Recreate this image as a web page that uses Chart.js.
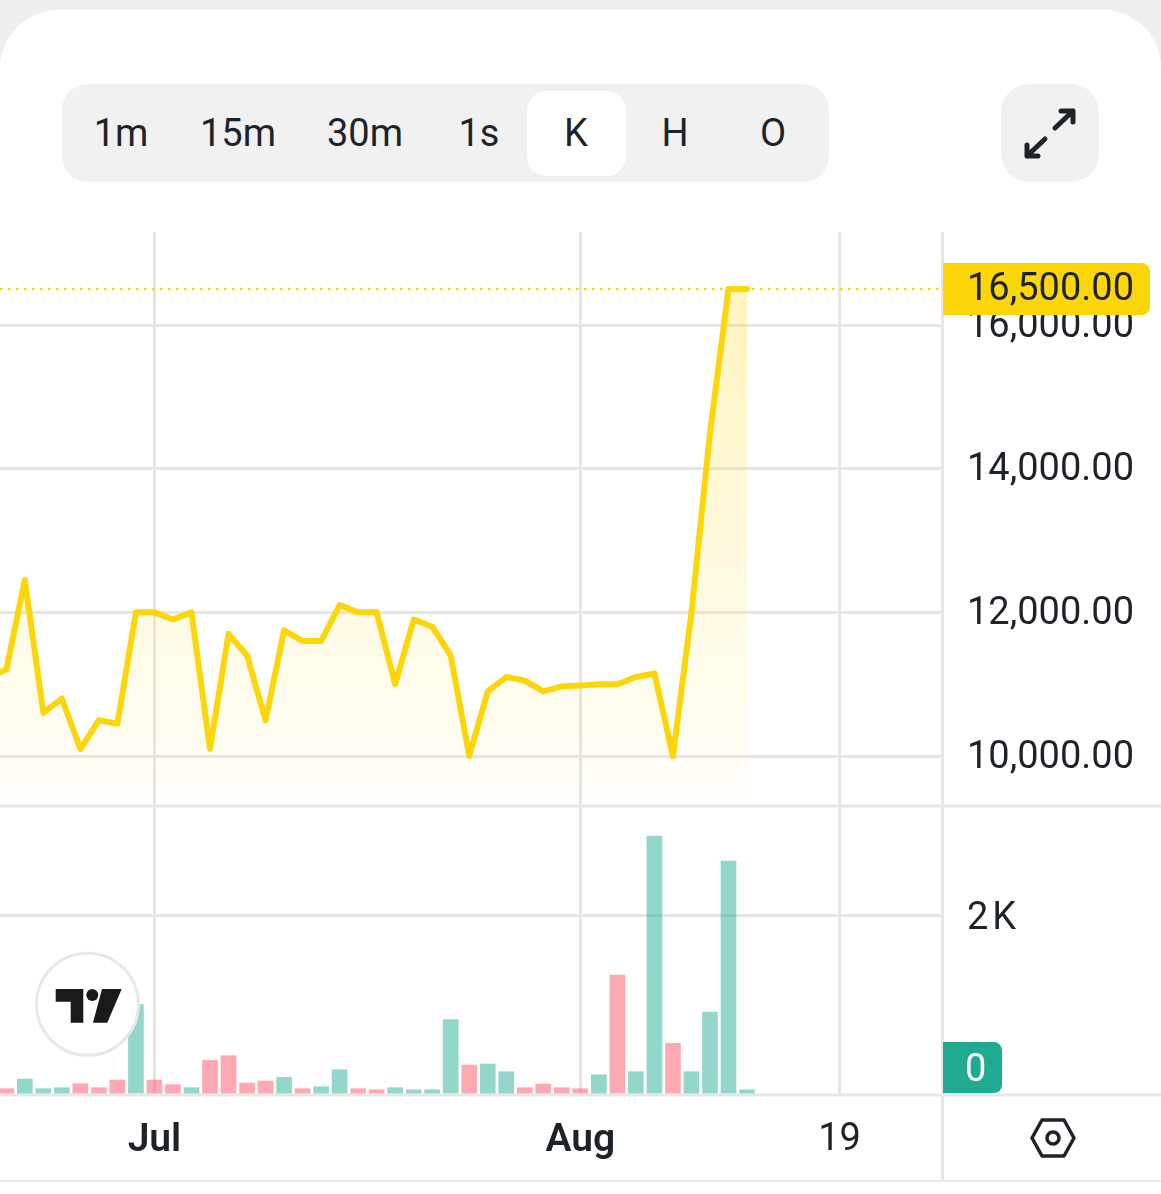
<!DOCTYPE html>
<html>
<head>
<meta charset="utf-8">
<script src="https://cdn.jsdelivr.net/npm/chart.js@4/dist/chart.umd.min.js"></script>
<style>
    html, body { margin: 0; padding: 0; background: #efeff0; width: 1161px; height: 1194px; overflow: hidden; }
    body { font-family: Roboto, sans-serif; color: #1e2329; position: relative; }
    #card { position: absolute; left: 0; top: 10px; width: 1161px; height: 1184px; background: #fff; border-radius: 58px 58px 0 0; }
    #tabs { position: absolute; left: 62px; top: 84px; width: 767px; height: 98px; background: #f1f1f2; border-radius: 26px; }
    #active { position: absolute; left: 527px; top: 91px; width: 99px; height: 85px; background: #fff; border-radius: 20px; }
    .tab { position: absolute; top: 110px; font-size: 38px; line-height: 46px; transform: translateX(-50%); }
    #expand { position: absolute; left: 1001px; top: 84px; width: 98px; height: 98px; background: #f1f1f2; border-radius: 28px; }
    #priceChart { position: absolute; left: 0; top: 232px; }
    svg.overlay { position: absolute; left: 0; top: 0; pointer-events: none; }
</style>
</head>
<body>
<div id="card"></div>
<div id="tabs"></div>
<div id="active"></div>
<span class="tab" style="left:121px">1m</span>
<span class="tab" style="left:238px">15m</span>
<span class="tab" style="left:365px">30m</span>
<span class="tab" style="left:479px">1s</span>
<span class="tab" style="left:576px">K</span>
<span class="tab" style="left:675px">H</span>
<span class="tab" style="left:773px">O</span>
<div id="expand"></div>
<canvas id="priceChart" width="1161" height="950"></canvas>
<svg class="overlay" width="1161" height="1194">
    <!-- 全屏图标 -->
    <g fill="none" stroke="#1e2329" stroke-width="5" stroke-linecap="round" stroke-linejoin="round">
        <path d="M1055 128 L1073 111 M1061 111 L1073 111 L1073 122"/>
        <path d="M1045 139 L1027 156 M1027 145 L1027 156 L1038 156"/>
    </g>
    <!-- TradingView 标志 -->
    <circle cx="87.5" cy="1004.3" r="51" fill="#fff" stroke="#e8e8e8" stroke-width="3"/>
    <g fill="#1a1a1a">
        <path d="M55.7 989 H83.3 V1022.7 H70.7 V1001.7 H55.7 Z"/>
        <circle cx="92.3" cy="995" r="6"/>
        <path d="M102 989 H121.7 L107.3 1022.7 H93 Z"/>
    </g>
    <!-- 设置图标 -->
    <g fill="none" stroke="#1e2329" stroke-width="3.5" stroke-linejoin="round">
        <path d="M1032 1138 L1042 1120 H1064 L1074 1138 L1064 1156 H1042 Z"/>
        <circle cx="1053" cy="1138" r="6"/>
    </g>
</svg>
<script>
// 收盘价
const priceValues = [11100, 11200, 12450, 10600, 10800, 10100, 10500, 10450, 12000, 12000,
    11900, 12000, 10100, 11700, 11400, 10500, 11750, 11600, 11600, 12100,
    12000, 12000, 11000, 11900, 11800, 11400, 10000, 10900, 11100, 11050,
    10900, 10970, 10980, 11000, 11000, 11100, 11150, 10000, 12000, 14500,
    16500, 16500];

// 成交量
const volumeValues = [40, 49, 157, 49, 60, 105, 60, 146, 993, 146,
    94, 60, 367, 420, 112, 135, 176, 49, 71, 262,
    49, 37, 60, 37, 37, 824, 315, 326, 240, 60,
    101, 60, 49, 206, 1326, 240, 2888, 558, 240, 910,
    2607, 37];

// 涨跌方向
const volumeSides = ['down', 'down', 'up', 'up', 'up', 'down', 'down', 'down', 'up', 'down',
    'down', 'up', 'down', 'down', 'down', 'down', 'up', 'down', 'up', 'up',
    'down', 'down', 'up', 'up', 'up', 'up', 'down', 'up', 'up', 'down',
    'down', 'down', 'down', 'up', 'down', 'up', 'up', 'down', 'up', 'up',
    'up', 'up'];

// 坐标轴刻度
const timeTickLabels = ['Jul', 'Aug', '19'];
const timeTickSessions = [9, 32, 46];
const priceTicks = [10000, 12000, 14000, 16000];
const volumeTicks = [2000];
const volumeBadgeLabel = '0';

const lastPrice = priceValues[priceValues.length - 1];
const textColor = '#1e2329';
const gridColor = '#e6e6e6';
const goldColor = '#fdd60a';
const fontFamily = 'Roboto, sans-serif';

function formatPrice(value) {
    return value.toLocaleString('en-US', { minimumFractionDigits: 2, maximumFractionDigits: 2 });
}

// 面积填充渐变
function areaGradient(context) {
    const chart = context.chart;
    if (!chart.chartArea) return 'rgba(253, 214, 10, 0.1)';
    const scale = chart.scales.y;
    const gradient = chart.ctx.createLinearGradient(0, scale.top + 57, 0, scale.bottom);
    gradient.addColorStop(0, 'rgba(253, 214, 10, 0.26)');
    gradient.addColorStop(1, 'rgba(253, 214, 10, 0.02)');
    return gradient;
}

// 去掉刻度文字带来的内边距，图表区域才能贴满画布
function fitAxis(scale, size) {
    if (scale.isHorizontal()) scale.height = size;
    else scale.width = size;
    scale.paddingTop = 0;
    scale.paddingBottom = 0;
    scale.paddingLeft = 0;
    scale.paddingRight = 0;
}

// 分隔线与右侧价格标签
const panePlugin = {
    id: 'panePlugin',
    beforeDraw(chart) {
        // 右侧刻度文字略微下移
        chart.scales.y.getLabelItems().forEach(item => { item.options.translation[1] += 2; });
        chart.scales.yVolume.getLabelItems().forEach(item => { item.options.translation[1] += 4; });
    },
    beforeDatasetsDraw(chart) {
        const { ctx, chartArea, width, height } = chart;
        ctx.save();
        ctx.fillStyle = gridColor;
        ctx.fillRect(0, chart.scales.y.bottom - 0.5, width, 3);
        ctx.fillRect(0, chartArea.bottom - 1.5, width, 3);
        ctx.fillRect(chartArea.right - 1, chartArea.top, 3, height);
        ctx.fillStyle = '#ececec';
        ctx.fillRect(0, height - 2, width, 2);
        ctx.restore();
    },
    afterDraw(chart) {
        const { ctx, chartArea } = chart;
        const left = chartArea.right + 1;
        const priceY = chart.scales.y.getPixelForValue(lastPrice);
        ctx.save();
        ctx.font = '38px ' + fontFamily;
        ctx.textBaseline = 'middle';
        ctx.textAlign = 'left';

        ctx.fillStyle = goldColor;
        ctx.beginPath();
        ctx.roundRect(left, priceY - 26, 207, 52, [0, 8, 8, 0]);
        ctx.fill();
        ctx.fillStyle = textColor;
        ctx.fillText(formatPrice(lastPrice), left + 24, priceY + 1);

        const bottom = chart.scales.yVolume.getPixelForValue(0);
        ctx.fillStyle = '#20ab91';
        ctx.beginPath();
        ctx.roundRect(left, bottom - 51, 59, 51, [0, 8, 8, 0]);
        ctx.fill();
        ctx.fillStyle = '#ffffff';
        ctx.fillText(volumeBadgeLabel, left + 22, bottom - 22);
        ctx.restore();
    }
};

// 创建图表
function createPriceChart() {
    const ctx = document.getElementById('priceChart').getContext('2d');
    const timeMin = 0.66;
    const timeMax = 51.53;

    new Chart(ctx, {
        type: 'bar',
        data: {
            datasets: [{
                type: 'line',
                label: 'Last price',
                data: [{ x: timeMin, y: lastPrice }, { x: timeMax, y: lastPrice }],
                yAxisID: 'y',
                borderColor: goldColor,
                borderWidth: 2.5,
                borderDash: [2.5, 5.5],
                pointRadius: 0,
                order: 2
            }, {
                type: 'line',
                label: 'Price',
                data: priceValues.map((value, i) => ({ x: i, y: value })),
                yAxisID: 'y',
                borderColor: goldColor,
                borderWidth: 6,
                borderCapStyle: 'round',
                borderJoinStyle: 'round',
                backgroundColor: areaGradient,
                fill: 'start',
                pointRadius: 0,
                tension: 0,
                order: 1
            }, {
                type: 'bar',
                label: 'Volume',
                data: volumeValues.map((value, i) => ({ x: i, y: value })),
                yAxisID: 'yVolume',
                barThickness: 15,
                backgroundColor: volumeSides.map(side => side === 'up'
                    ? 'rgba(30, 170, 145, 0.48)'
                    : 'rgba(248, 75, 95, 0.48)'),
                order: 3
            }]
        },
        options: {
            responsive: false,
            animation: false,
            devicePixelRatio: 1,
            layout: { padding: 0 },
            plugins: {
                legend: { display: false },
                title: { display: false },
                tooltip: { enabled: false }
            },
            scales: {
                x: {
                    type: 'linear',
                    min: timeMin,
                    max: timeMax,
                    offset: false,
                    afterFit: scale => fitAxis(scale, 87),
                    afterBuildTicks: scale => {
                        scale.ticks = timeTickSessions.map(value => ({ value }));
                    },
                    grid: { color: gridColor, lineWidth: 3, drawTicks: false, offset: false },
                    border: { display: false },
                    ticks: {
                        autoSkip: false,
                        maxRotation: 0,
                        padding: 23,
                        color: textColor,
                        font: context => ({
                            family: fontFamily,
                            size: /^\d/.test(String(context.tick && context.tick.label)) ? 38 : 39,
                            weight: /^\d/.test(String(context.tick && context.tick.label)) ? '400' : '600'
                        }),
                        callback: value => timeTickLabels[timeTickSessions.indexOf(value)]
                    }
                },
                y: {
                    position: 'right',
                    stack: 'panes',
                    stackWeight: 573,
                    min: 9318,
                    max: 17295,
                    afterFit: scale => fitAxis(scale, 219),
                    afterBuildTicks: scale => {
                        scale.ticks = priceTicks.map(value => ({ value }));
                    },
                    grid: { color: gridColor, lineWidth: 3, drawTicks: false },
                    border: { display: false },
                    ticks: {
                        padding: 25,
                        color: textColor,
                        font: { family: fontFamily, size: 38 },
                        callback: value => formatPrice(value)
                    }
                },
                yVolume: {
                    position: 'right',
                    stack: 'panes',
                    stackWeight: 290,
                    min: -22,
                    max: 3236,
                    afterFit: scale => fitAxis(scale, 219),
                    afterBuildTicks: scale => {
                        scale.ticks = volumeTicks.map(value => ({ value }));
                    },
                    grid: { color: gridColor, lineWidth: 3, drawTicks: false },
                    border: { display: false },
                    ticks: {
                        padding: 25,
                        color: textColor,
                        font: { family: fontFamily, size: 38 },
                        callback: value => (value / 1000) + '\u200aK'
                    }
                }
            }
        },
        plugins: [panePlugin]
    });
}

// 初始化页面
document.addEventListener('DOMContentLoaded', () => {
    createPriceChart();
});
</script>
</body>
</html>
